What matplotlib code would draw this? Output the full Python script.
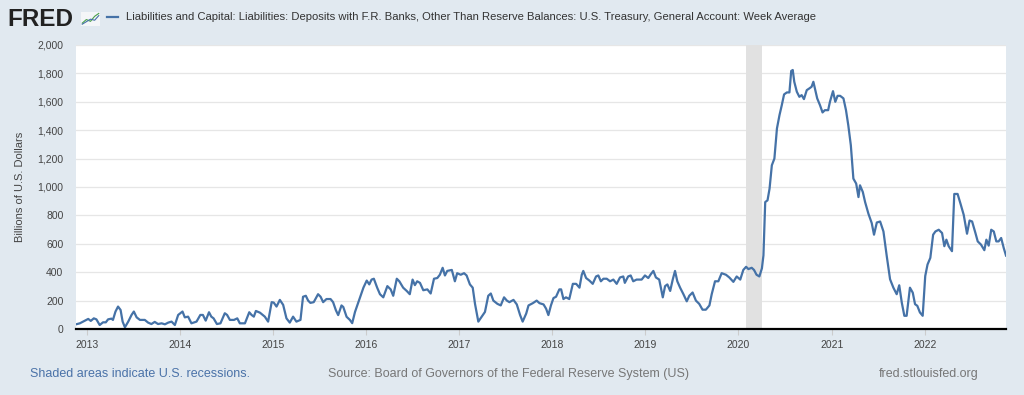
import matplotlib
matplotlib.use("Agg")
import matplotlib.pyplot as plt
import pandas as pd

plt.rcParams['font.family'] = ['Liberation Sans', 'DejaVu Sans']

# ---- data (billions of US dollars) ----
dates = [
    "2012-11-18", "2012-12-03", "2012-12-23", "2013-01-05", "2013-01-15", "2013-01-27",
    "2013-02-06", "2013-02-19", "2013-03-04", "2013-03-15", "2013-03-24", "2013-04-06",
    "2013-04-12", "2013-04-22", "2013-05-02", "2013-05-12", "2013-05-20", "2013-05-29",
    "2013-06-11", "2013-06-24", "2013-07-03", "2013-07-14", "2013-07-27", "2013-08-15",
    "2013-08-28", "2013-09-10", "2013-09-23", "2013-10-06", "2013-10-20", "2013-11-02",
    "2013-11-15", "2013-11-28", "2013-12-11", "2013-12-24", "2014-01-10", "2014-01-19",
    "2014-02-01", "2014-02-14", "2014-03-06", "2014-03-21", "2014-03-31", "2014-04-11",
    "2014-04-24", "2014-05-03", "2014-05-12", "2014-05-25", "2014-06-08", "2014-06-25",
    "2014-07-04", "2014-07-15", "2014-07-31", "2014-08-13", "2014-08-23", "2014-09-12",
    "2014-09-29", "2014-10-08", "2014-10-17", "2014-10-25", "2014-11-10", "2014-11-29",
    "2014-12-12", "2014-12-26", "2015-01-03", "2015-01-14", "2015-01-27", "2015-02-09",
    "2015-02-22", "2015-03-07", "2015-03-20", "2015-04-02", "2015-04-18", "2015-04-28",
    "2015-05-09", "2015-05-18", "2015-05-27", "2015-06-09", "2015-06-26", "2015-07-06",
    "2015-07-16", "2015-07-29", "2015-08-14", "2015-08-24", "2015-09-04", "2015-09-13",
    "2015-09-26", "2015-10-03", "2015-10-16", "2015-10-29", "2015-11-07", "2015-11-18",
    "2015-12-08", "2015-12-21", "2016-01-03", "2016-01-13", "2016-01-22", "2016-01-31",
    "2016-02-13", "2016-02-24", "2016-03-08", "2016-03-24", "2016-04-06", "2016-04-16",
    "2016-04-30", "2016-05-10", "2016-05-25", "2016-06-08", "2016-06-20", "2016-07-01",
    "2016-07-10", "2016-07-19", "2016-07-30", "2016-08-12", "2016-08-28", "2016-09-10",
    "2016-09-23", "2016-10-06", "2016-10-16", "2016-10-27", "2016-11-05", "2016-11-14",
    "2016-12-02", "2016-12-14", "2016-12-23", "2017-01-06", "2017-01-19", "2017-01-29",
    "2017-02-11", "2017-02-22", "2017-03-03", "2017-03-16", "2017-03-29", "2017-04-11",
    "2017-04-24", "2017-05-04", "2017-05-14", "2017-05-30", "2017-06-12", "2017-06-25",
    "2017-07-06", "2017-07-16", "2017-08-01", "2017-08-14", "2017-08-27", "2017-09-06",
    "2017-09-20", "2017-09-29", "2017-10-16", "2017-10-31", "2017-11-11", "2017-11-27",
    "2017-12-07", "2017-12-16", "2017-12-26", "2018-01-05", "2018-01-15", "2018-01-28",
    "2018-02-04", "2018-02-13", "2018-02-23", "2018-03-08", "2018-03-22", "2018-04-04",
    "2018-04-17", "2018-04-26", "2018-05-02", "2018-05-13", "2018-05-26", "2018-06-08",
    "2018-06-21", "2018-06-30", "2018-07-10", "2018-07-20", "2018-08-02", "2018-08-15",
    "2018-08-28", "2018-09-10", "2018-09-23", "2018-10-06", "2018-10-12", "2018-10-25",
    "2018-11-04", "2018-11-14", "2018-11-27", "2018-12-17", "2018-12-30", "2019-01-12",
    "2019-01-22", "2019-02-01", "2019-02-11", "2019-02-24", "2019-03-10", "2019-03-19",
    "2019-03-28", "2019-04-08", "2019-04-18", "2019-04-27", "2019-05-06", "2019-05-17",
    "2019-05-30", "2019-06-12", "2019-06-22", "2019-07-05", "2019-07-18", "2019-07-31",
    "2019-08-13", "2019-08-26", "2019-09-09", "2019-09-18", "2019-10-01", "2019-10-14",
    "2019-10-27", "2019-11-13", "2019-11-26", "2019-12-12", "2019-12-25", "2020-01-08",
    "2020-01-20", "2020-01-31", "2020-02-09", "2020-02-22", "2020-03-02", "2020-03-12",
    "2020-03-23", "2020-04-02", "2020-04-08", "2020-04-15", "2020-04-24", "2020-05-02",
    "2020-05-11", "2020-05-21", "2020-05-31", "2020-06-10", "2020-06-19", "2020-06-28",
    "2020-07-09", "2020-07-19", "2020-07-26", "2020-08-01", "2020-08-07", "2020-08-17",
    "2020-08-27", "2020-09-05", "2020-09-14", "2020-09-25", "2020-10-05", "2020-10-14",
    "2020-10-21", "2020-10-27", "2020-11-05", "2020-11-16", "2020-11-26", "2020-12-05",
    "2020-12-18", "2020-12-25", "2021-01-06", "2021-01-15", "2021-01-24", "2021-02-03",
    "2021-02-16", "2021-02-26", "2021-03-07", "2021-03-17", "2021-03-27", "2021-04-07",
    "2021-04-16", "2021-04-22", "2021-05-03", "2021-05-12", "2021-05-25", "2021-06-07",
    "2021-06-16", "2021-06-27", "2021-07-10", "2021-07-23", "2021-08-05", "2021-08-18",
    "2021-08-31", "2021-09-13", "2021-09-23", "2021-10-03", "2021-10-13", "2021-10-22",
    "2021-11-04", "2021-11-15", "2021-11-24", "2021-12-03", "2021-12-13", "2021-12-24",
    "2022-01-03", "2022-01-12", "2022-01-23", "2022-02-03", "2022-02-12", "2022-02-25",
    "2022-03-10", "2022-03-19", "2022-03-27", "2022-04-05", "2022-04-18", "2022-04-27",
    "2022-05-10", "2022-05-21", "2022-06-03", "2022-06-16", "2022-06-26", "2022-07-06",
    "2022-07-19", "2022-07-28", "2022-08-10", "2022-08-23", "2022-08-31", "2022-09-09",
    "2022-09-19", "2022-09-29", "2022-10-09", "2022-10-18", "2022-10-28", "2022-11-07",
    "2022-11-16",
]
values = [
    33, 40, 59, 71, 57, 75,
    68, 28, 47, 47, 68, 73,
    64, 123, 158, 134, 52, 12,
    52, 99, 123, 82, 64, 64,
    45, 35, 50, 35, 40, 33,
    45, 52, 28, 99, 123, 82,
    87, 40, 52, 99, 99, 59,
    118, 87, 75, 35, 40, 111,
    99, 64, 64, 75, 40, 40,
    118, 99, 87, 127, 115, 87,
    52, 189, 186, 158, 205, 170,
    75, 45, 87, 52, 64, 227,
    234, 200, 184, 189, 245, 227,
    189, 211, 211, 189, 132, 98,
    166, 155, 86, 64, 41, 120,
    223, 291, 341, 314, 348, 354,
    291, 245, 223, 302, 279, 234,
    354, 336, 291, 268, 245, 348,
    309, 336, 325, 273, 279, 250,
    354, 359, 382, 431, 377, 409,
    416, 336, 393, 382, 393, 377,
    314, 291, 177, 52, 86, 120,
    234, 250, 200, 177, 166, 223,
    200, 189, 205, 173, 98, 52,
    109, 166, 182, 200, 182, 173,
    143, 98, 166, 218, 227, 279,
    279, 211, 223, 211, 318, 318,
    291, 382, 409, 359, 341, 318,
    370, 377, 336, 354, 354, 336,
    348, 318, 363, 370, 325, 370,
    377, 336, 348, 348, 377, 359,
    386, 409, 363, 348, 223, 302,
    314, 268, 348, 409, 336, 291,
    245, 195, 234, 257, 200, 177,
    136, 136, 166, 245, 336, 336,
    393, 382, 363, 332, 370, 348,
    416, 438, 422, 431, 416, 382,
    370, 427, 518, 894, 906, 988,
    1153, 1200, 1412, 1506, 1576, 1652,
    1666, 1666, 1817, 1824, 1741, 1671,
    1635, 1647, 1619, 1682, 1694, 1706,
    1741, 1694, 1624, 1576, 1525, 1541,
    1541, 1600, 1675, 1600, 1642, 1642,
    1624, 1541, 1435, 1294, 1059, 1024,
    929, 1012, 965, 894, 812, 746,
    664, 750, 757, 687, 513, 350,
    291, 245, 308, 186, 93, 93,
    291, 256, 175, 163, 117, 93,
    373, 454, 501, 664, 687, 699,
    676, 583, 629, 583, 548, 951,
    951, 885, 804, 671, 764, 757,
    676, 617, 594, 555, 629, 587,
    699, 687, 617, 617, 641, 571,
    517,
]
recession_start = "2020-02-01"
recession_end = "2020-04-01"
year_ticks = ["2013", "2014", "2015", "2016", "2017", "2018", "2019", "2020", "2021", "2022"]
y_ticks = [0, 200, 400, 600, 800, 1000, 1200, 1400, 1600, 1800, 2000]

title = ("Liabilities and Capital: Liabilities: Deposits with F.R. Banks, Other Than Reserve "
         "Balances: U.S. Treasury, General Account: Week Average")

# ---- figure ----
BG = "#e1e9f0"
LINE = "#4572a7"
fig = plt.figure(figsize=(10.24, 3.95), dpi=100, facecolor=BG)
ax = fig.add_axes([76/1024, 1-329/395, 930/1024, 284/395])
ax.set_facecolor("white")

x = pd.to_datetime(dates)
ax.axvspan(pd.Timestamp(recession_start), pd.Timestamp(recession_end), color="#e1e1e1", lw=0, zorder=1)
ax.plot(x, values, color=LINE, lw=1.6, zorder=3, solid_joinstyle="round")

ax.set_xlim(pd.Timestamp(dates[0]), pd.Timestamp(dates[-1]))
ax.set_ylim(0, 2000)
ax.set_yticks(y_ticks)
ax.set_yticklabels([f"{v:,}" for v in y_ticks])
ax.set_xticks([pd.Timestamp(f"{y}-01-01") for y in year_ticks])
ax.set_xticklabels(year_ticks)
ax.grid(axis="y", color="#e6e6e6", lw=0.9, zorder=0)
ax.set_axisbelow(True)
for s in ["top", "right", "left"]:
    ax.spines[s].set_visible(False)
ax.spines["bottom"].set_color("black")
ax.spines["bottom"].set_linewidth(1.6)
ax.spines["bottom"].set_zorder(4)
ax.tick_params(axis="y", length=0, labelsize=7.5, labelcolor="#444444", pad=9)
ax.tick_params(axis="x", length=4, color="#cccccc", labelsize=7.5, labelcolor="#444444", pad=4)
ax.set_ylabel("Billions of U.S. Dollars", fontsize=8, color="#444444", labelpad=9)

# header
fig.text(7/1024, 1-19/395, "FRED", fontsize=17.5, fontweight="bold", color="#222222",
         va="center", ha="left")
icon = fig.add_axes([81/1024, 1-26/395, 19/1024, 14/395])
icon.set_facecolor("#f4f6f8")
icon.plot([0, 1, 2, 3, 4], [0.5, 1.5, 1.0, 2.4, 3.2], color="#4aa04a", lw=0.8)
icon.plot([0, 1, 2, 3, 4], [0.2, 0.9, 1.6, 1.3, 2.6], color="#4572a7", lw=0.8)
icon.set_xlim(-0.3, 4.3); icon.set_ylim(-0.3, 3.6)
icon.set_xticks([]); icon.set_yticks([])
for s in icon.spines.values():
    s.set_visible(False)
fig.lines.append(plt.Line2D([107/1024, 118/1024], [1-17/395, 1-17/395], transform=fig.transFigure,
                            color=LINE, lw=1.6))
fig.text(126/1024, 1-17/395, title, fontsize=8.1, color="#333333", va="center", ha="left")

# footer
fig.text(30/1024, 1-374/395, "Shaded areas indicate U.S. recessions.", fontsize=9,
         color="#4a72a8", va="center", ha="left")
fig.text(508/1024, 1-374/395, "Source: Board of Governors of the Federal Reserve System (US)",
         fontsize=9, color="#777777", va="center", ha="center")
fig.text(979/1024, 1-374/395, "fred.stlouisfed.org", fontsize=9, color="#777777",
         va="center", ha="right")

fig.savefig("out.png", dpi=100, facecolor=BG)
